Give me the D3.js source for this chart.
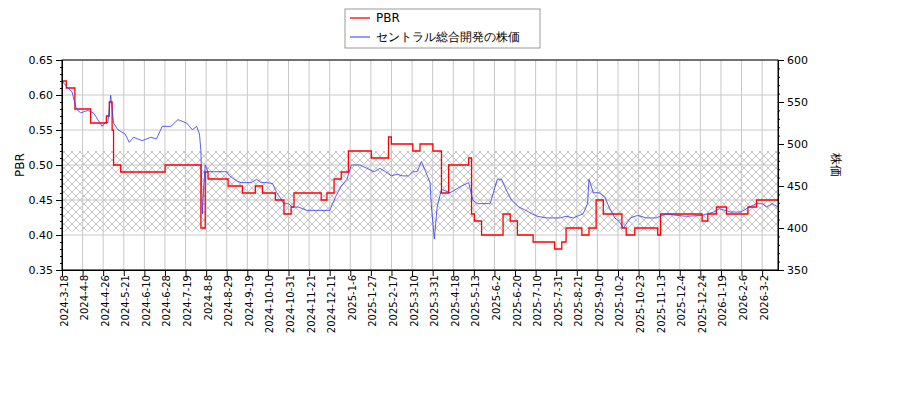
<!DOCTYPE html>
<html><head><meta charset="utf-8">
<script src="https://cdn.jsdelivr.net/npm/d3@7/dist/d3.min.js"></script>
<style>body{margin:0;background:#fff}text{font-family:"DejaVu Sans",sans-serif}</style>
</head><body><svg id="c" width="900" height="400"></svg>
<script>
const tickLabels=["2024-3-18","2024-4-8","2024-4-26","2024-5-21","2024-6-10","2024-6-28","2024-7-19","2024-8-8","2024-8-29","2024-9-19","2024-10-10","2024-10-31","2024-11-21","2024-12-11","2025-1-6","2025-1-27","2025-2-17","2025-3-10","2025-3-31","2025-4-18","2025-5-13","2025-6-2","2025-6-20","2025-7-10","2025-7-31","2025-8-21","2025-9-10","2025-10-2","2025-10-23","2025-11-13","2025-12-4","2025-12-24","2026-1-19","2026-2-6","2026-3-2"];
const tickStep=14.38, nDays=500;
// PBR step changes: trading-day index and value
const pbrIdx=[0,3,9,20,31,33,35,36,41,72,97,100,102,116,126,135,140,149,155,160,162,181,185,190,195,200,216,228,230,245,250,259,265,270,284,286,288,293,308,313,318,329,344,349,352,363,368,373,378,391,394,400,416,418,447,451,457,464,479,485,500];
const pbrVal=[0.62,0.61,0.58,0.56,0.57,0.59,0.55,0.50,0.49,0.50,0.41,0.49,0.48,0.47,0.46,0.47,0.46,0.45,0.43,0.44,0.46,0.45,0.46,0.48,0.49,0.52,0.51,0.54,0.53,0.52,0.53,0.52,0.46,0.50,0.51,0.43,0.42,0.40,0.43,0.42,0.40,0.39,0.38,0.39,0.41,0.40,0.41,0.45,0.43,0.41,0.40,0.41,0.40,0.43,0.42,0.43,0.44,0.43,0.44,0.45,0.45];
// stock price: trading-day index and yen
const priceIdx=[0,4,7,10,13,18,22,25,28,31,32,34,36,39,44,47,50,56,62,66,70,76,81,87,91,94,96,97,98,99,100,102,106,111,115,117,122,125,129,132,136,139,143,147,150,155,158,161,165,171,177,181,187,191,195,199,202,208,213,218,222,226,230,234,238,242,245,248,251,254,257,258,260,262,265,271,275,279,284,287,290,293,299,304,307,310,314,319,324,328,332,338,343,348,352,357,364,367,368,371,375,379,382,386,389,392,397,402,408,415,422,429,436,447,451,455,459,463,467,474,480,485,489,492,496,500];
const priceVal=[575,567,562,542,537,540,537,529,521,527,525,558,525,517,512,502,508,504,508,506,521,521,529,525,517,521,512,492,417,450,475,467,467,467,467,462,456,454,454,454,458,454,454,453,442,429,429,425,425,421,421,421,421,437,450,458,475,475,471,467,471,467,462,464,462,462,467,467,479,467,454,425,387,425,446,442,446,450,454,433,429,429,429,458,458,446,433,425,421,417,414,412,412,412,414,412,417,429,458,442,442,437,425,412,408,400,412,415,412,412,417,415,414,415,417,419,423,421,419,419,425,429,429,425,429,425];

const svg=d3.select("#c");
const L=62,R=778,T=60,B=270;
const x=d3.scaleLinear().domain([0,nDays]).range([L,R]);
const yL=d3.scaleLinear().domain([0.35,0.65]).range([B,T]);
const yR=d3.scaleLinear().domain([350,600]).range([B,T]);

const defs=svg.append("defs");
const pat=defs.append("pattern").attr("id","hatch").attr("patternUnits","userSpaceOnUse").attr("width",8).attr("height",8);
pat.append("path").attr("d","M0,0L8,8M8,0L0,8").attr("stroke","#aaa").attr("stroke-width",0.7);
defs.append("clipPath").attr("id","clip").append("rect").attr("x",L).attr("y",T).attr("width",R-L).attr("height",B-T);

svg.append("rect").attr("x",L).attr("y",yL(0.52)).attr("width",R-L).attr("height",yL(0.405)-yL(0.52)).attr("fill","url(#hatch)");

const xt=d3.range(tickLabels.length).map(i=>i*tickStep);
const g=svg.append("g");
g.selectAll(".vg").data(xt).join("line").attr("x1",d=>x(d)).attr("x2",d=>x(d)).attr("y1",T).attr("y2",B).attr("stroke","#c8c8c8");
g.selectAll(".hg").data(d3.range(0.35,0.651,0.05)).join("line").attr("x1",L).attr("x2",R).attr("y1",d=>yL(d)).attr("y2",d=>yL(d)).attr("stroke","#c8c8c8");

const clipG=svg.append("g").attr("clip-path","url(#clip)");
clipG.append("path").datum(pbrIdx.map((d,i)=>[d,pbrVal[i]])).attr("fill","none").attr("stroke","#f00").attr("stroke-width",1.3)
 .attr("d",d3.line().x(d=>x(d[0])).y(d=>yL(d[1])).curve(d3.curveStepAfter));
clipG.append("path").datum(priceIdx.map((d,i)=>[d,priceVal[i]])).attr("fill","none").attr("stroke","#33f").attr("stroke-width",0.8)
 .attr("d",d3.line().x(d=>x(d[0])).y(d=>yR(d[1])));

svg.append("rect").attr("x",L).attr("y",T).attr("width",R-L).attr("height",B-T).attr("fill","none").attr("stroke","#000");

const ax=svg.append("g").attr("transform",`translate(0,${B})`).call(d3.axisBottom(x).tickValues(xt).tickFormat((d,i)=>tickLabels[i]).tickSizeOuter(0));
ax.selectAll("text").attr("transform","rotate(-90)").attr("text-anchor","end").attr("dx","-0.5em").attr("dy","-0.4em").attr("font-size",10).attr("fill","#000");
const al=svg.append("g").attr("transform",`translate(${L},0)`).call(d3.axisLeft(yL).tickValues(d3.range(0.35,0.651,0.05)).tickFormat(d3.format(".2f")).tickSizeOuter(0));
al.selectAll("text").attr("font-size",11);
svg.append("g").attr("transform",`translate(${L},0)`).call(d3.axisLeft(yL).tickValues(d3.range(0.35,0.651,0.01)).tickSize(2).tickFormat("").tickSizeOuter(0));
const ar=svg.append("g").attr("transform",`translate(${R},0)`).call(d3.axisRight(yR).tickValues(d3.range(350,601,50)).tickSizeOuter(0));
ar.selectAll("text").attr("font-size",11);
svg.append("g").attr("transform",`translate(${R},0)`).call(d3.axisRight(yR).tickValues(d3.range(350,601,10)).tickSize(2).tickFormat("").tickSizeOuter(0));
svg.selectAll(".domain").attr("stroke","#000");

svg.append("text").attr("transform","translate(24,165) rotate(-90)").attr("text-anchor","middle").attr("font-size",12).text("PBR");
svg.append("text").attr("transform","translate(832,165) rotate(90)").attr("text-anchor","middle").attr("font-size",12).attr("font-family","Noto Sans CJK JP").text("株価");

const lg=svg.append("g");
lg.append("rect").attr("x",345).attr("y",9).attr("width",195).attr("height",39).attr("fill","#fff").attr("stroke","#999");
lg.append("line").attr("x1",350).attr("x2",370).attr("y1",18).attr("y2",18).attr("stroke","#f00").attr("stroke-width",1.3);
lg.append("line").attr("x1",350).attr("x2",370).attr("y1",37).attr("y2",37).attr("stroke","#33f");
lg.append("text").attr("x",376).attr("y",22).attr("font-size",12).text("PBR");
lg.append("text").attr("x",376).attr("y",41).attr("font-size",12).attr("font-family","Noto Sans CJK JP").text("セントラル総合開発の株価");
</script></body></html>
